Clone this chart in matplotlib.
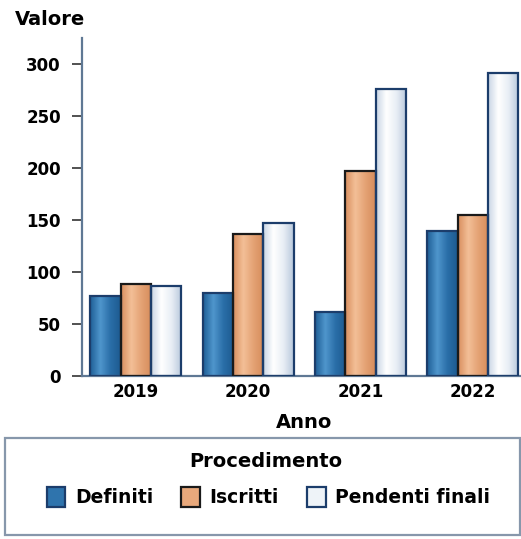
"""Grouped bar chart: procedimenti definiti / iscritti / pendenti per anno."""

import matplotlib
matplotlib.use("Agg")
import matplotlib.pyplot as plt
import numpy as np
from matplotlib.colors import LinearSegmentedColormap
from matplotlib.patches import Patch, Rectangle

years = ["2019", "2020", "2021", "2022"]
series_names = ["Definiti", "Iscritti", "Pendenti finali"]
definiti = [77, 80, 62, 139]
iscritti = [89, 137, 197, 155]
pendenti = [87, 147, 276, 291]

face_colors = ["#2f74ad", "#e9a97c", "#eef3f8"]
edge_colors = ["#1c3d6b", "#1a1a1a", "#1c3d6b"]
gradients = [
    ["#1f5f97", "#4f96cc", "#2a6ea8", "#1d5a90"],
    ["#d98f5f", "#f3bf97", "#e4a274", "#d68c5b"],
    ["#c9d6e5", "#ffffff", "#e8eef5", "#b8c8dc"],
]

plt.rcParams["font.family"] = ["DejaVu Sans"]

fig = plt.figure(figsize=(5.21, 5.39), dpi=100)
ax = fig.add_axes([0.157, 0.302, 0.843, 0.628])

x = np.arange(len(years))
width = 0.27
all_values = [definiti, iscritti, pendenti]

for i, (vals, name) in enumerate(zip(all_values, series_names)):
    offs = (i - 1) * width
    bars = ax.bar(x + offs, vals, width, color=face_colors[i],
                  edgecolor=edge_colors[i], linewidth=1.6, label=name, zorder=2)
    cmap = LinearSegmentedColormap.from_list(f"g{i}", gradients[i])
    grad = np.linspace(0, 1, 64).reshape(1, -1)
    for b in bars:
        x0, y0 = b.get_x(), b.get_y()
        w, h = b.get_width(), b.get_height()
        im = ax.imshow(grad, extent=[x0, x0 + w, y0, y0 + h], cmap=cmap,
                       aspect="auto", zorder=2.5, interpolation="bicubic")
        im.set_clip_path(b)
        b.set_facecolor("none")
        b.set_zorder(3)

ax.set_xlim(-0.48, 3.43)
ax.set_ylim(0, 325)
ax.set_yticks([0, 50, 100, 150, 200, 250, 300])
ax.set_xticks(x)
ax.set_xticklabels(years)

spine_col = "#5f7894"
for side in ["top", "right"]:
    ax.spines[side].set_visible(False)
for side in ["left", "bottom"]:
    ax.spines[side].set_color(spine_col)
    ax.spines[side].set_linewidth(1.6)
ax.tick_params(axis="y", length=7, width=1.2, color="#333333",
               labelsize=12, pad=8)
ax.tick_params(axis="x", length=0, labelsize=12, pad=5)
for lab in ax.get_xticklabels() + ax.get_yticklabels():
    lab.set_fontweight("semibold")

fig.text(0.028, 0.963, "Valore", fontsize=14, fontweight="bold",
         ha="left", va="center")
fig.text(0.583, 0.217, "Anno", fontsize=14, fontweight="bold",
         ha="center", va="center")

# legend box spans the full width of the figure
fig.patches.append(Rectangle((0.0096, 0.0074), 0.988, 0.18,
                             transform=fig.transFigure, fill=False,
                             edgecolor="#8797ab", linewidth=1.6))
fig.text(0.51, 0.143, "Procedimento", fontsize=14, fontweight="bold",
         ha="center", va="center")

handles = [Patch(facecolor=face_colors[i], edgecolor=edge_colors[i],
                 linewidth=1.6) for i in range(3)]
leg = fig.legend(handles, series_names, loc="center", ncol=3,
                 bbox_to_anchor=(0.515, 0.078), frameon=False,
                 prop={"size": 13.5, "weight": "bold"},
                 handlelength=1.0, handleheight=1.3, handletextpad=0.5,
                 columnspacing=1.5)

fig.savefig("out.png", dpi=100)
